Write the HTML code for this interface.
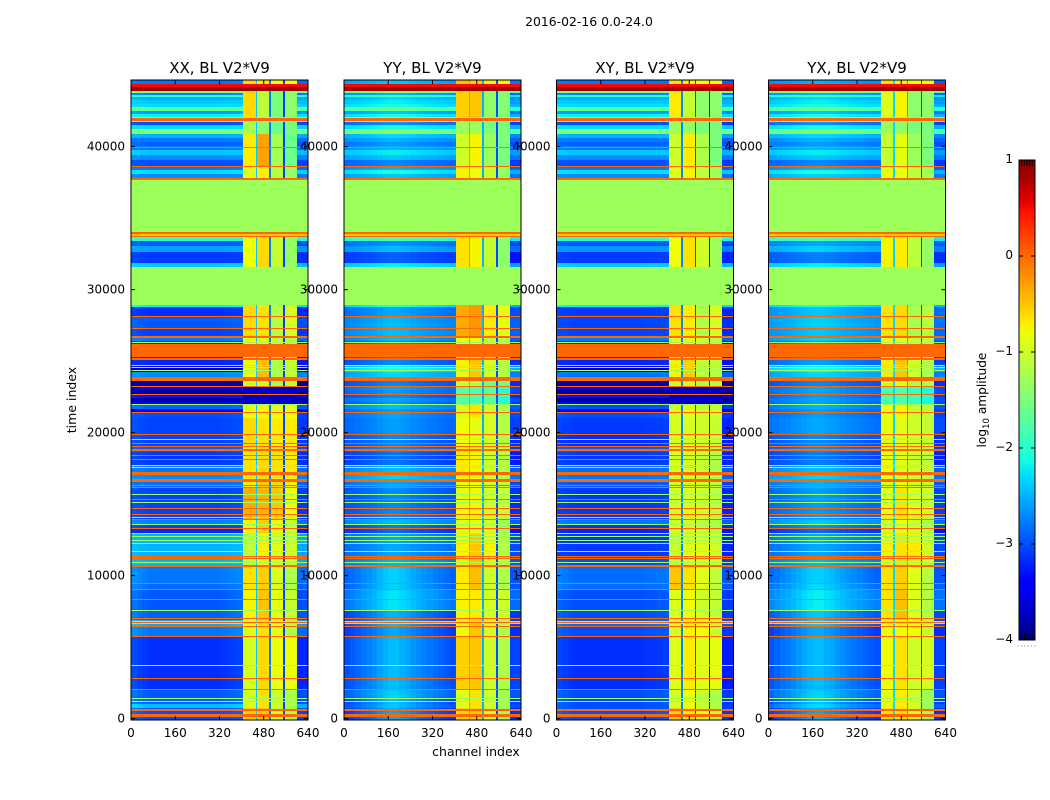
<!DOCTYPE html>
<html>
<head>
<meta charset="utf-8">
<title>2016-02-16 0.0-24.0</title>
<style>
html,body{margin:0;padding:0;background:#fff;}
svg{display:block;}
text{font-family:"DejaVu Sans","Liberation Sans",sans-serif;fill:#000;}
</style>
</head>
<body>
<svg id="chart" width="1050" height="800" viewBox="0 0 1050 800" xmlns="http://www.w3.org/2000/svg">
<defs>
<linearGradient id="jetGradient" x1="0" y1="1" x2="0" y2="0"></linearGradient>
</defs>
<text x="589" y="26" font-size="12.4" text-anchor="middle">2016-02-16 0.0-24.0</text>
<text x="76" y="400" font-size="12.5" text-anchor="middle" transform="rotate(-90 76 400)">time index</text>
<text x="476" y="756" font-size="12.5" text-anchor="middle">channel index</text>
<g id="images"></g>
<g id="frames"></g>
<g id="colorbar"></g>
</svg>
<script>
// Panels
const panelTitles = ["XX, BL V2*V9", "YY, BL V2*V9", "XY, BL V2*V9", "YX, BL V2*V9"];
const xTicks = [0, 160, 320, 480, 640];
const yTicks = [0, 10000, 20000, 30000, 40000];
const colorbarTicks = [1, 0, -1, -2, -3, -4];

// Upper time index of each horizontal band
const bandTop = [
  734,1014,1364,1993,5699,6468,6888,7517,8986,9475,
  10594,11294,12972,13252,13531,13881,14720,16189,16539,17098,
  17727,18636,18986,19895,21014,21433,21643,21923,22133,22413,
  22623,22972,23252,23601,23881,24231,24371,24510,24720,25210,
  26189,26399,26608,26748,27308,28147,28776,28916,31571,31851,
  32200,32620,33040,33390,33670,34020,37656,37796,38076,38356,
  38636,39056,39406,39755,40035,40314,40594,40874,41224,41503,
  41783,41993,42273,42483,42763,42972,43252,43462,43602,43742,
  43881,44371,44651];

// log10 amplitude of the broadband channels in each band
const xxBackground = [
  -3.0,-2.45,-2.9,-2.95,-3.15,-2.8,-2.55,-2.9,-2.95,-2.85,
  -2.8,-2.5,-2.5,-3.2,-3.05,-2.75,-3.05,-3.05,-2.85,-2.7,
  -2.8,-3.1,-2.95,-3.05,-3.05,-3.0,-3.5,-2.9,-3.5,-3.85,
  -3.3,-3.85,-3.5,-3.85,-3.85,-2.7,-3.7,-3.7,-3.7,-3.2,
  -3.2,-3.2,-2.8,-3.2,-3.05,-2.95,-3.15,-2.2,-1.3,-2.4,
  -3.1,-3.1,-2.6,-2.95,-2.0,-0.4,-1.3,0,-2.7,-2.3,
  -2.8,-3.0,-2.7,-2.4,-2.8,-2.9,-2.8,-2.5,-1.5,-2.3,
  -3.0,-0.5,-2.2,-2.6,-1.7,-2.3,-2.4,-2.5,-1.9,-2.75,
  -1.5,0.8,-2.8];
const yyBackground = [
  -2.85,-2.7,-2.75,-2.65,-2.75,-2.85,-2.75,-2.8,-2.55,-2.65,
  -2.65,-2.65,-2.7,-3.0,-2.9,-2.6,-2.85,-2.85,-2.7,-2.5,
  -2.6,-2.95,-2.8,-2.85,-2.75,-2.7,-2.75,-2.6,-2.8,-2.7,
  -2.85,-2.75,-2.7,-2.85,-2.85,-2.45,-2.25,-2.2,-2.3,-2.85,
  -2.85,-2.85,-2.6,-2.85,-2.6,-2.6,-2.7,-2.2,-1.3,-2.3,
  -3.0,-3.0,-2.55,-2.75,-1.9,-0.4,-1.3,0,-2.5,-2.2,
  -2.6,-2.8,-2.5,-2.3,-2.6,-2.7,-2.6,-2.4,-1.5,-2.2,
  -2.75,-0.5,-2.2,-2.5,-1.7,-2.2,-2.3,-2.4,-1.9,-2.6,
  -1.5,0.8,-2.5];
const xyBackground = [
  -3.0,-3.0,-3.0,-3.0,-3.15,-3.0,-2.85,-3.0,-3.0,-2.85,
  -2.85,-3.0,-3.1,-3.2,-3.1,-2.8,-3.1,-3.1,-2.95,-2.8,
  -2.85,-3.1,-2.95,-3.15,-3.1,-3.0,-3.4,-3.0,-3.5,-3.85,
  -3.3,-3.85,-3.5,-3.85,-3.85,-2.8,-3.7,-3.7,-3.7,-3.2,
  -3.2,-3.2,-2.8,-3.2,-3.05,-3.05,-3.1,-2.2,-1.3,-2.4,
  -3.1,-3.1,-2.65,-2.95,-2.0,-0.4,-1.3,0,-2.7,-2.3,
  -2.8,-3.0,-2.7,-2.4,-2.8,-2.9,-2.8,-2.5,-1.5,-2.3,
  -3.0,-0.5,-2.2,-2.6,-1.7,-2.3,-2.4,-2.5,-1.9,-2.75,
  -1.5,0.8,-2.8];
const yxBackground = [
  -2.85,-2.6,-2.75,-2.65,-2.75,-2.85,-2.7,-2.7,-2.5,-2.6,
  -2.65,-2.65,-2.7,-3.0,-2.8,-2.55,-2.75,-2.75,-2.65,-2.5,
  -2.6,-2.9,-2.8,-2.85,-2.7,-2.75,-2.75,-2.65,-2.75,-2.7,
  -2.75,-2.7,-2.7,-2.85,-2.85,-2.45,-2.25,-2.2,-2.3,-2.75,
  -2.75,-2.75,-2.5,-2.85,-2.55,-2.5,-2.55,-2.2,-1.3,-2.3,
  -2.85,-2.85,-2.45,-2.65,-1.9,-0.6,-1.3,0,-2.45,-2.2,
  -2.6,-2.8,-2.5,-2.3,-2.6,-2.7,-2.6,-2.4,-1.55,-2.2,
  -2.75,-0.5,-2.2,-2.5,-1.7,-2.2,-2.3,-2.4,-1.9,-2.6,
  -1.5,0.75,-2.6];

// Offset across channels 0-400 in 20-channel bins
const xxProfile = [.12,.08,.04,0,0,0,0,0,0,0,0,0,0,0,0,0,.02,.04,.06,.08];
const yyProfile = [-.2,-.16,-.1,-.04,0,.06,.14,.2,.25,.25,.2,.16,.1,.05,0,-.04,-.08,-.12,-.16,-.2];
const xyProfile = [.1,.06,.03,0,0,0,0,0,0,0,0,0,0,0,0,0,.02,.03,.04,.05];
const yxProfile = [-.18,-.12,-.06,-.02,.04,.1,.16,.22,.25,.25,.2,.16,.1,.05,0,-.04,-.08,-.12,-.16,-.2];

// Strength of the channel profile per time range
const profileGainTop = [10594, 28916, 44651];
const profileGain = [1.2, 0.6, 0.4];

// Level of channels 599-640 relative to the band level
const edgeOffset = [-.05, -.3, -.1, -.3];

// Narrow low-level gaps between the bright strips
const gapLevels = [[-2.4,-2.75,-3.05],[-2.3,-2.5,-3.0],[-2.7,-3.0,-3.2],[-2.3,-2.5,-3.0]];

// Upper time index of each block of the four bright strips
const stripBlockTop = [520,2050,3720,5750,6900,8340,10660,12950,14250,15700,16700,19000,21000,21950,23200,23900,25280,26750,28900,33690,38600,40900,41800,43900,44651];

// Level of strips 406-451, 457-500, 506-550, 556-599 per block
const xxStrips = [
  [-.55,-.5,-1.0,-1.2],[-.95,-.65,-1.0,-1.2],[-.7,-.55,-.9,-1.15],[-.95,-.6,-.8,-.8],[-.9,-.65,-.85,-1.2],
  [-.75,-.5,-.85,-1.05],[-.65,-.55,-.95,-1.2],[-1.1,-.75,-.9,-1.0],[-.75,-.55,-.75,-1.1],[-.35,-.4,-.5,-.8],
  [-.7,-.55,-.6,-.7],[-.65,-.6,-.65,-.7],[-.6,-.65,-.7,-.7],[-.85,-.75,-.85,-.85],[-3.7,-3.7,-3.7,-3.7],
  [-1,-.95,-1.25,-1.05],[-.8,-.45,-1.15,-1.05],[-.85,-.85,-1.05,-1.15],[-.6,-.65,-1.15,-.95],[-.8,-.6,-1.05,-1.35],
  [-.9,-.7,-1.15,-1.35],[-.7,-.3,-1.25,-1.6],[-1.25,-1.4,-1.6,-1.5],[-.6,-1.1,-1.5,-1.4],[-.6,-.7,-.8,-.8]];
const yyStrips = [
  [-.6,-.55,-1.0,-1.3],[-.9,-.65,-1.0,-1.25],[-.6,-.7,-.95,-1.2],[-.55,-.5,-1.0,-1.2],[-.8,-.5,-.95,-1.2],
  [-.75,-.7,-.95,-1.0],[-.7,-.45,-1.0,-1.2],[-.75,-.5,-.75,-1.15],[-.9,-.85,-.95,-1.3],[-.85,-.75,-.95,-1.05],
  [-.85,-.8,-.95,-1.05],[-.7,-.75,-1.0,-1.15],[-.8,-.85,-.95,-1.15],[-.95,-.65,-.95,-1.2],[-1.7,-1.8,-1.7,-2.0],
  [-1.05,-1.15,-1.6,-1.6],[-.75,-.5,-.95,-1.15],[-.85,-.85,-1.05,-1.15],[-.35,-.25,-.7,-.85],[-.65,-.75,-1.05,-1.4],
  [-.75,-.8,-1.05,-1.35],[-1.0,-.75,-1.3,-1.5],[-1.3,-1.3,-1.5,-1.5],[-.55,-.5,-1.35,-1.45],[-.45,-.55,-.75,-.75]];
const xyStrips = [
  [-.55,-.7,-.95,-1.1],[-.95,-.8,-1.05,-1.2],[-.6,-.65,-.9,-1.05],[-.9,-.7,-.9,-.85],[-.95,-.75,-.8,-1.05],
  [-.9,-.8,-1.0,-1.05],[-.5,-.65,-.9,-1.1],[-1.05,-.9,-.9,-1.0],[-.95,-.95,-1.1,-1.2],[-.95,-.9,-1.0,-1.1],
  [-.95,-.9,-1.0,-1.1],[-.95,-.95,-1.05,-1.2],[-.95,-.95,-1.0,-1.05],[-.95,-.85,-1.05,-1.0],[-3.7,-3.7,-3.7,-3.7],
  [-.95,-.9,-1.2,-1.1],[-.75,-.55,-1.1,-1.1],[-.85,-.85,-1.0,-1.1],[-.65,-.7,-1.2,-.95],[-.8,-.65,-1.0,-1.3],
  [-.9,-.75,-1.1,-1.3],[-1.0,-.7,-1.2,-1.5],[-1.3,-1.35,-1.5,-1.5],[-.7,-1.05,-1.4,-1.4],[-.65,-.75,-.8,-.8]];
const yxStrips = [
  [-.65,-.65,-.95,-1.3],[-.85,-.7,-1.0,-1.3],[-.55,-.7,-.95,-1.2],[-.8,-.65,-1.0,-.95],[-.8,-.8,-.8,-1.05],
  [-.65,-.45,-.9,-1.15],[-.65,-.55,-.9,-1.15],[-.75,-.65,-.7,-1.0],[-.95,-.8,-.95,-1.2],[-.85,-.65,-.9,-1.0],
  [-.9,-.8,-.95,-1.05],[-.8,-.9,-1.0,-1.1],[-.85,-.9,-1.0,-1.05],[-.8,-.75,-1.05,-1.1],[-1.8,-1.8,-1.9,-2.1],
  [-.95,-.95,-1.2,-1.2],[-.7,-.5,-1.0,-1.2],[-.85,-.85,-1.0,-1.1],[-.65,-.6,-1.25,-1.15],[-.75,-.7,-1.1,-1.35],
  [-.85,-.8,-1.1,-1.3],[-1.05,-.85,-1.3,-1.5],[-1.3,-1.35,-1.5,-1.5],[-.9,-.75,-1.4,-1.4],[-.65,-.75,-.8,-.8]];

// Flat all-channel rows shared by every panel
const flagStart = [
  100,524,1165,1350,2005,2775,3685,5710,6430,6610,
  6680,6790,6945,7530,8300,8970,9440,10610,10860,11140,
  11330,11630,12215,12445,12680,12915,13225,13565,13890,14035,
  14215,14635,15055,15295,15665,16135,16295,16540,17050,17505,
  17695,18090,18390,18740,18970,19210,19490,19860,21375,21935,
  22635,23195,23580,24285,24525,24685,25080,25280,26275,26590,
  27250,28085,28916,33670,33750,33880,34020,37656,38560,39915,
  41740,41800,41990,43880,43900,44140];
const flagEnd = [
  350,685,1235,1420,2075,2845,3755,5785,6505,6680,
  6790,6860,7015,7600,8370,9040,9510,10720,10930,11210,
  11400,11700,12285,12515,12750,12985,13320,13635,13960,14105,
  14285,14705,15125,15365,15735,16205,16365,16750,17240,17575,
  17765,18160,18460,18850,19040,19280,19560,19930,21445,22005,
  22705,23265,23860,24355,24595,24755,25210,26190,26345,26750,
  27320,28155,31571,33750,33880,34020,37656,37790,38680,39985,
  41800,41990,42040,43930,44140,44390];
const flagLevel = [
  0,0,-1.3,-1.3,0,0,-1.3,0,0,-1.3,
  0,-1.3,0,-1.3,0,0,0,0,-1.3,0,
  0,-1.3,-1.3,-1.3,-1.3,-1.3,0,-1.3,0,-1.3,
  0,0,-1.3,0,-1.3,0,0,0,0,-1.3,
  -1.3,0,0,0,0,0,-1.3,0,0,-1.3,
  0,0,0,-1.3,-1.3,-1.3,0,0,-1.3,0,
  0,0,-1.3,0,-.5,0,-1.3,0,0,-.05,
  -.6,0,-.6,0,.85,.5];

const allBackgrounds = [xxBackground, yyBackground, xyBackground, yxBackground];
const allProfiles = [xxProfile, yyProfile, xyProfile, yxProfile];
const allStrips = [xxStrips, yyStrips, xyStrips, yxStrips];

// Layout
const panelLeft = [131, 344, 556.5, 768.5];
const panelWidth = 177;
const plotTop = 80;
const plotBottom = 720;
const timeMin = -98;
const timeMax = 44660;
const channelMax = 640;
const stripEdges = [[406,451],[457,500],[506,550],[556,599]];
const gapEdges = [[451,457],[500,506],[550,556]];

const SVG_NS = "http://www.w3.org/2000/svg";
const imagesGroup = document.getElementById("images");
const framesGroup = document.getElementById("frames");
const colorbarGroup = document.getElementById("colorbar");

function xScale(panel, channel) {
  return panelLeft[panel] + channel / channelMax * panelWidth;
}
function yScale(time) {
  return plotBottom - (time - timeMin) / (timeMax - timeMin) * (plotBottom - plotTop);
}
function ramp(x, a, b) {
  return Math.max(0, Math.min(1, (x - a) / (b - a)));
}
function jet(level) {
  const x = Math.max(0, Math.min(1, (level + 4) / 5));
  const r = x < 0.89 ? ramp(x, 0.35, 0.66) : 1 - 0.5 * ramp(x, 0.89, 1);
  const g = x < 0.64 ? ramp(x, 0.125, 0.375) : 1 - ramp(x, 0.64, 0.91);
  const b = x < 0.34 ? 0.5 + 0.5 * ramp(x, 0, 0.11) : 1 - ramp(x, 0.34, 0.65);
  return "rgb(" + Math.round(r * 255) + "," + Math.round(g * 255) + "," + Math.round(b * 255) + ")";
}
function stripRowAt(time) {
  for (let i = 0; i < stripBlockTop.length; i++) {
    if (time <= stripBlockTop[i]) return i;
  }
  return stripBlockTop.length - 1;
}
function gainAt(time) {
  for (let i = 0; i < profileGainTop.length; i++) {
    if (time <= profileGainTop[i]) return profileGain[i];
  }
  return profileGain[profileGain.length - 1];
}
function drawCell(parent, panel, c0, c1, t0, t1, level) {
  const y0 = Math.round(yScale(t1));
  const y1 = Math.round(yScale(t0));
  const x0 = Math.round(xScale(panel, c0));
  const x1 = Math.round(xScale(panel, c1));
  const el = document.createElementNS(SVG_NS, "rect");
  
  
  el.setAttribute("x", x0);
  el.setAttribute("y", y0);
  el.setAttribute("width", Math.max(1, x1 - x0));
  el.setAttribute("height", Math.max(1, y1 - y0));
  el.setAttribute("fill", jet(level));
  el.setAttribute("shape-rendering", "crispEdges");
  parent.appendChild(el);
}
function drawLine(parent, name, x1, y1, x2, y2, color, width) {
  const el = document.createElementNS(SVG_NS, "line");
  
  
  el.setAttribute("x1", x1);
  el.setAttribute("y1", y1);
  el.setAttribute("x2", x2);
  el.setAttribute("y2", y2);
  el.setAttribute("stroke", color);
  el.setAttribute("stroke-width", width);
  parent.appendChild(el);
}
function drawText(parent, name, x, y, content, size, anchor) {
  const el = document.createElementNS(SVG_NS, "text");
  
  
  el.setAttribute("x", x);
  el.setAttribute("y", y);
  el.setAttribute("font-size", size);
  el.setAttribute("text-anchor", anchor);
  el.textContent = content;
  parent.appendChild(el);
  return el;
}

// Heatmaps
panelTitles.forEach(function (title, p) {
  const g = document.createElementNS(SVG_NS, "g");
  
  
  imagesGroup.appendChild(g);
  const background = allBackgrounds[p];
  const profile = allProfiles[p];
  const strips = allStrips[p];
  let lower = timeMin;
  bandTop.forEach(function (top, b) {
    const level = background[b];
    const mid = (lower + top) / 2;
    const gain = gainAt(mid);
    profile.forEach(function (offset, bin) {
      const c0 = bin * 20;
      const c1 = bin === profile.length - 1 ? stripEdges[0][0] : (bin + 1) * 20;
      drawCell(g, p, c0, c1, lower, top, level + offset * gain);
    });
    const stripRow = strips[stripRowAt(mid)];
    stripEdges.forEach(function (edge, s) {
      drawCell(g, p, edge[0], edge[1], lower, top, stripRow[s]);
    });
    gapEdges.forEach(function (edge, s) {
      drawCell(g, p, edge[0], edge[1], lower, top, Math.min(gapLevels[p][s], stripRow[s]));
    });
    drawCell(g, p, stripEdges[3][1], channelMax, lower, top, level + edgeOffset[p]);
    lower = top;
  });
  flagStart.forEach(function (start, f) {
    drawCell(g, p, 0, channelMax, start, flagEnd[f], flagLevel[f]);
  });
});

// Axes
panelTitles.forEach(function (title, p) {
  const key = title.slice(0, 2).toLowerCase();
  const left = panelLeft[p];
  const right = left + panelWidth;
  const frame = document.createElementNS(SVG_NS, "rect");
  
  
  frame.setAttribute("x", left);
  frame.setAttribute("y", plotTop);
  frame.setAttribute("width", panelWidth);
  frame.setAttribute("height", plotBottom - plotTop);
  frame.setAttribute("fill", "none");
  frame.setAttribute("stroke", "#000");
  frame.setAttribute("stroke-width", "1");
  framesGroup.appendChild(frame);
  xTicks.forEach(function (tick) {
    const x = xScale(p, tick);
    drawLine(framesGroup, "x-tick-bottom", x, plotBottom, x, plotBottom - 4, "#000", 1);
    drawLine(framesGroup, "x-tick-top", x, plotTop, x, plotTop + 4, "#000", 1);
    drawText(framesGroup, "x-tick-label", x, plotBottom + 17, String(tick), 12, "middle");
  });
  yTicks.forEach(function (tick) {
    const y = yScale(tick);
    drawLine(framesGroup, "y-tick-left", left, y, left + 4, y, "#000", 1);
    drawLine(framesGroup, "y-tick-right", right, y, right - 4, y, "#000", 1);
    drawText(framesGroup, "y-tick-label", left - 6, y + 4, String(tick), 12, "end");
  });
  drawText(framesGroup, "panel-title-" + key, left + panelWidth / 2, 73, title, 15, "middle");
});

// Colorbar
const cbLeft = 1019;
const cbRight = 1035;
const cbTop = 160;
const cbBottom = 640;
const cbMax = 1;
const cbMin = -4;
function cbScale(level) {
  return cbBottom - (level - cbMin) / (cbMax - cbMin) * (cbBottom - cbTop);
}
const gradient = document.getElementById("jetGradient");
for (let i = 0; i <= 64; i++) {
  const stop = document.createElementNS(SVG_NS, "stop");
  stop.setAttribute("offset", i / 64);
  stop.setAttribute("stop-color", jet(cbMin + (cbMax - cbMin) * i / 64));
  gradient.appendChild(stop);
}
const cbBar = document.createElementNS(SVG_NS, "rect");


cbBar.setAttribute("x", cbLeft);
cbBar.setAttribute("y", cbTop);
cbBar.setAttribute("width", cbRight - cbLeft);
cbBar.setAttribute("height", cbBottom - cbTop);
cbBar.setAttribute("fill", "url(#jetGradient)");
cbBar.setAttribute("stroke", "#000");
cbBar.setAttribute("stroke-width", "1");
colorbarGroup.appendChild(cbBar);
colorbarTicks.forEach(function (tick) {
  const y = cbScale(tick);
  drawLine(colorbarGroup, "colorbar-tick-left", cbLeft, y, cbLeft + 4, y, "#000", 1);
  drawLine(colorbarGroup, "colorbar-tick-right", cbRight, y, cbRight - 4, y, "#000", 1);
  const label = tick < 0 ? "\u2212" + Math.abs(tick) : String(tick);
  drawText(colorbarGroup, "colorbar-tick-label", cbLeft - 6, y + 3, label, 12, "end");
});
for (let i = 1; i < 6; i++) {
  const x = cbLeft + (cbRight - cbLeft) * i / 6;
  drawLine(colorbarGroup, "colorbar-minor-tick-top", x, cbTop, x, cbTop + 6, "#000", 1);
  drawLine(colorbarGroup, "colorbar-minor-tick-bottom", x, cbBottom, x, cbBottom - 6, "#000", 1);
}
for (let i = 0; i < 6; i++) {
  const dot = document.createElementNS(SVG_NS, "circle");
  
  
  dot.setAttribute("cx", cbLeft - 1 + i * 3.4);
  dot.setAttribute("cy", 646);
  dot.setAttribute("r", 0.6);
  dot.setAttribute("fill", "#888");
  colorbarGroup.appendChild(dot);
}
const cbTitle = drawText(colorbarGroup, "colorbar-title", 986, 400, "", 12.2, "middle");
cbTitle.setAttribute("transform", "rotate(-90 986 400)");
const cbTitleA = document.createElementNS(SVG_NS, "tspan");


cbTitleA.textContent = "log";
cbTitle.appendChild(cbTitleA);
const cbTitleB = document.createElementNS(SVG_NS, "tspan");


cbTitleB.setAttribute("font-size", "8.5");
cbTitleB.setAttribute("dy", "3");
cbTitleB.textContent = "10";
cbTitle.appendChild(cbTitleB);
const cbTitleC = document.createElementNS(SVG_NS, "tspan");


cbTitleC.setAttribute("dy", "-3");
cbTitleC.textContent = " amplitude";
cbTitle.appendChild(cbTitleC);
</script>
</body>
</html>
